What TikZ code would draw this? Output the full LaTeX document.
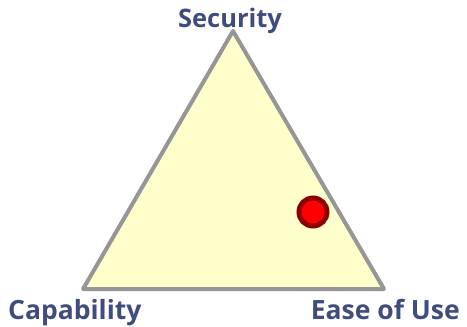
\documentclass[tikz,border=0pt]{standalone}
\usepackage{fontspec}
\setmainfont{Open Sans}
\definecolor{labelblue}{HTML}{3F4C7E}
\definecolor{trifill}{HTML}{FFFFCC}
\definecolor{triedge}{HTML}{969696}
\definecolor{dotred}{HTML}{FF0000}
\definecolor{dotring}{HTML}{8E0000}
\begin{document}
\begin{tikzpicture}[x=1pt,y=-1pt,
  lbl/.style={font=\fontsize{25.5}{28}\selectfont\bfseries, text=labelblue, inner sep=0pt, anchor=base},
  bigl/.style={lbl, font=\fontsize{26.5}{29}\selectfont\bfseries},
  tri/.style={fill=trifill, draw=triedge, line width=4pt, line join=round},
  marker/.style={circle, fill=dotred, draw=dotring, line width=5pt, minimum size=28pt, inner sep=0pt}]
\useasboundingbox (0,0) rectangle (467,327);
\coordinate (top) at (233,31);
\coordinate (left) at (83,289);
\coordinate (right) at (384,289);
\draw[tri] (top) -- (left) -- (right) -- cycle;
\node[marker] (dot) at (313,212) {};
\node[lbl] (sec) at (230,27) {Security};
\node[bigl, anchor=base west] (cap) at (8,319) {Capability};
\node[bigl, anchor=base east] (ease) at (460,319) {Ease of Use};
\end{tikzpicture}
\end{document}
